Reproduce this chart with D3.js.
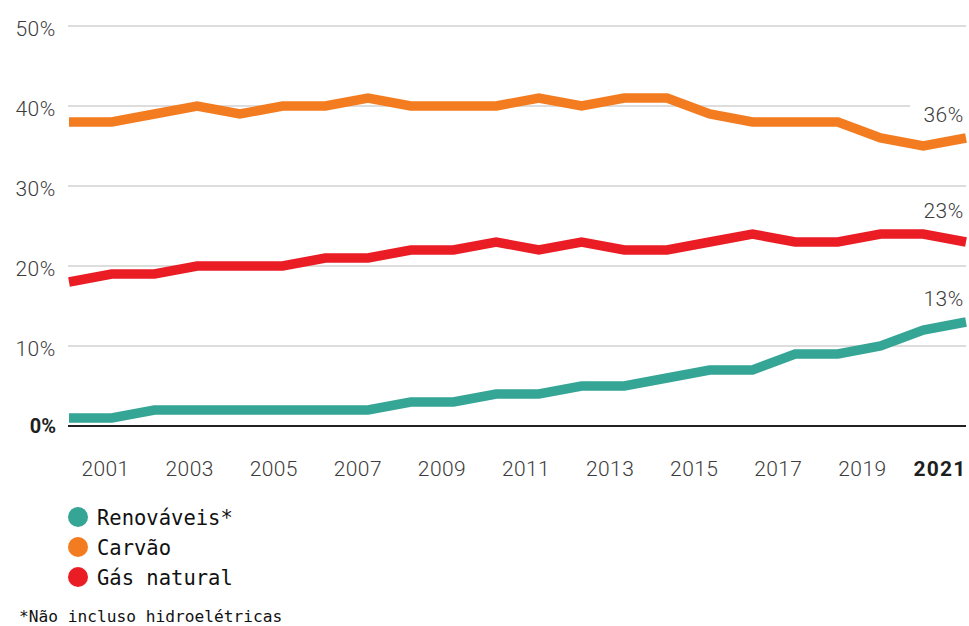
<!DOCTYPE html>
<html>
<head>
<meta charset="utf-8">
<script src="https://cdn.jsdelivr.net/npm/d3@7"></script>
<style>
  html, body { margin: 0; padding: 0; background: #ffffff; }
  svg { display: block; }
</style>
</head>
<body>
<svg id="chart" width="969" height="626"></svg>
<script>
// Participação de cada fonte na geração de eletricidade (%)
const years = [2000, 2001, 2002, 2003, 2004, 2005, 2006, 2007, 2008, 2009, 2010,
               2011, 2012, 2013, 2014, 2015, 2016, 2017, 2018, 2019, 2020, 2021];
const renovaveis = [1, 1, 2, 2, 2, 2, 2, 2, 3, 3, 4, 4, 5, 5, 6, 7, 7, 9, 9, 10, 12, 13];
const carvao     = [38, 38, 39, 40, 39, 40, 40, 41, 40, 40, 40, 41, 40, 41, 41, 39, 38, 38, 38, 36, 35, 36];
const gasNatural = [18, 19, 19, 20, 20, 20, 21, 21, 22, 22, 23, 22, 23, 22, 22, 23, 24, 23, 23, 24, 24, 23];

const seriesNames = ["Renováveis*", "Carvão", "Gás natural"];
const seriesValues = [renovaveis, carvao, gasNatural];
const seriesColors = ["#35a596", "#f47c20", "#ea1d25"];

const yTicks = [0, 10, 20, 30, 40, 50];
const xTickYears = [2001, 2003, 2005, 2007, 2009, 2011, 2013, 2015, 2017, 2019, 2021];
const footnote = "*Não incluso hidroelétricas";

const svg = d3.select("#chart");

const x = d3.scaleLinear().domain([2000, 2021]).range([69, 966]);
const xLabel = d3.scaleLinear().domain([2000, 2021]).range([63, 946]);
const y = d3.scaleLinear().domain([0, 50]).range([426, 26]);

const sans = "Roboto, 'Liberation Sans', Arial, sans-serif";
const mono = "'DejaVu Sans Mono', monospace";

// Grade horizontal
svg.append("g")
  .selectAll("line")
  .data(yTicks.filter(d => d > 0))
  .join("line")
  .attr("x1", 68).attr("x2", 966)
  .attr("y1", d => y(d)).attr("y2", d => y(d))
  .attr("stroke", "#d2d2d2")
  .attr("stroke-width", 1.5);

// Rótulos do eixo Y
svg.append("g")
  .selectAll("text")
  .data(yTicks)
  .join("text")
  .attr("x", 56)
  .attr("y", d => y(d) + (d === 0 ? 7 : 10))
  .attr("text-anchor", "end")
  .attr("font-family", sans)
  .attr("font-size", d => d === 0 ? 20 : 21)
  .attr("font-weight", d => d === 0 ? 700 : 300)
  .attr("letter-spacing", d => d === 0 ? 0 : 0.6)
  .attr("fill", d => d === 0 ? "#1e1e1e" : "#3c3c3c")
  .text(d => d + "%");

// Eixo X (só rótulos)
const xAxis = d3.axisBottom(xLabel)
  .tickValues(xTickYears)
  .tickFormat(d3.format("d"))
  .tickSize(0)
  .tickPadding(0);

const gx = svg.append("g")
  .attr("transform", "translate(0,461)")
  .call(xAxis);
gx.select(".domain").remove();
gx.selectAll("text")
  .attr("font-family", sans)
  .attr("font-size", 21)
  .attr("font-weight", 300)
  .attr("letter-spacing", 0.4)
  .attr("fill", "#3c3c3c")
  .attr("dy", "0.72em");
gx.selectAll(".tick")
  .filter(d => d === 2021)
  .select("text")
  .attr("text-anchor", "end")
  .attr("x", x(2021) - xLabel(2021))
  .attr("font-weight", 700)
  .attr("font-size", 21)
  .attr("letter-spacing", 1.2)
  .attr("fill", "#1e1e1e");

// Linhas das séries
const line = d3.line()
  .x((d, i) => x(years[i]))
  .y(d => y(d));

svg.append("g")
  .selectAll("path")
  .data(seriesValues)
  .join("path")
  .attr("d", d => line(d))
  .attr("fill", "none")
  .attr("stroke", (d, i) => seriesColors[i])
  .attr("stroke-width", 9.5)
  .attr("stroke-linejoin", "miter");

// Linha de base 0%
svg.append("line")
  .attr("x1", 68).attr("x2", 966)
  .attr("y1", y(0)).attr("y2", y(0))
  .attr("stroke", "#222")
  .attr("stroke-width", 2);

// Valores finais
const labelLift = [2, 2, 3];
const endLabels = svg.append("g")
  .selectAll("g")
  .data(seriesValues)
  .join("g");
endLabels.append("rect")
  .attr("x", 910)
  .attr("y", (d, i) => y(d[d.length - 1] + labelLift[i]) - 17)
  .attr("width", 58)
  .attr("height", 21)
  .attr("fill", "#fff");
endLabels.append("text")
  .attr("x", 964)
  .attr("y", (d, i) => y(d[d.length - 1] + labelLift[i]))
  .attr("text-anchor", "end")
  .attr("font-family", sans)
  .attr("font-size", 21)
  .attr("font-weight", 300)
  .attr("letter-spacing", 0.6)
  .attr("fill", "#3c3c3c")
  .text(d => d[d.length - 1] + "%");

// Legenda
const legend = svg.append("g")
  .selectAll("g")
  .data(seriesNames)
  .join("g")
  .attr("transform", (d, i) => `translate(0,${517 + i * 30})`);
legend.append("circle")
  .attr("cx", 78).attr("cy", 0).attr("r", 10)
  .attr("fill", (d, i) => seriesColors[i]);
legend.append("text")
  .attr("x", 97).attr("y", 7.5)
  .attr("font-family", mono)
  .attr("font-size", 20.5)
  .attr("fill", "#111")
  .text(d => d);

// Nota de rodapé
svg.append("text")
  .attr("x", 19).attr("y", 622)
  .attr("font-family", mono)
  .attr("font-size", 16.2)
  .attr("fill", "#111")
  .text(footnote);
</script>
</body>
</html>
